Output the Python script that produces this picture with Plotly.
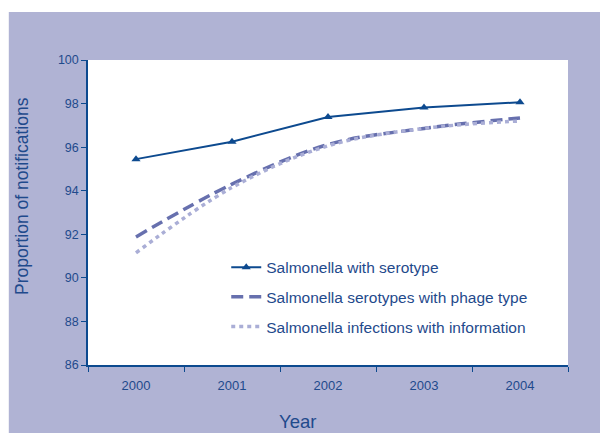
import plotly.graph_objects as go

years = ["2000", "2001", "2002", "2003", "2004"]
serotype = [95.45, 96.25, 97.38, 97.82, 98.06]
phage_type = [91.88, 94.3, 96.12, 96.86, 97.34]
information = [91.15, 94.15, 96.06, 96.86, 97.2]

NAVY = "#0D4A8F"
TEXT = "#1F4A8C"
LAVENDER = "#B0B3D4"
FONT = "Liberation Sans, Arial, sans-serif"

fig = go.Figure()
fig.add_trace(go.Scatter(
    x=years, y=serotype, name="Salmonella with serotype", legendgroup="a",
    mode="lines+markers", line=dict(color=NAVY, width=2),
    marker=dict(symbol="triangle-up", size=8, color=NAVY)))
fig.add_trace(go.Scatter(
    x=years, y=phage_type, name="Salmonella serotypes with phage type", legendgroup="b",
    mode="lines", line=dict(color="#6770AE", width=3.5, dash="12px,6px", shape="spline")))
fig.add_trace(go.Scatter(
    x=years, y=information, name="Salmonella infections with information", legendgroup="c",
    mode="lines", line=dict(color="#AAAED6", width=3.5, dash="4px,4px", shape="spline")))

# lavender frame behind the chart, white plot area on top of it
fig.add_shape(type="rect", xref="paper", yref="paper", x0=-0.165, x1=1.075, y0=-0.23, y1=1.157,
              fillcolor=LAVENDER, line=dict(width=0), layer="below")
fig.add_shape(type="rect", xref="paper", yref="paper", x0=0, x1=1, y0=0, y1=1,
              fillcolor="white", line=dict(width=0), layer="below")

fig.add_annotation(text="Year", xref="paper", yref="paper", x=0.436, y=-0.184,
                   showarrow=False, font=dict(size=18.5, color=TEXT, family=FONT),
                   xanchor="center", yanchor="middle")
fig.add_annotation(text="Proportion of notifications", xref="paper", yref="paper",
                   x=-0.1375, y=0.554, textangle=-90, showarrow=False,
                   font=dict(size=17.5, color=TEXT, family=FONT),
                   xanchor="center", yanchor="middle")

fig.update_xaxes(type="category", range=[-0.5, 4.5], tickson="boundaries",
                 ticks="outside", ticklen=5, ticklabelstandoff=8,
                 tickcolor=NAVY, showline=True, linecolor=NAVY, linewidth=1.5,
                 showgrid=False, tickfont=dict(size=13, color=TEXT, family=FONT))
fig.update_yaxes(range=[86, 100], dtick=2, ticks="outside", ticklen=5,
                 tickcolor=NAVY, showline=True, linecolor=NAVY, linewidth=1.5,
                 showgrid=False, zeroline=False,
                 tickfont=dict(size=12.5, color=TEXT, family=FONT))

# page body adds 8px, so the figure is 8px smaller than the window
fig.update_layout(
    width=600, height=425,
    margin=dict(l=80, r=40, t=52, b=68, autoexpand=False),
    paper_bgcolor="white", plot_bgcolor="white",
    font=dict(family=FONT, color=TEXT),
    showlegend=True,
    legend=dict(x=0.288, y=0.375, xanchor="left", yanchor="top",
                bgcolor="rgba(0,0,0,0)", traceorder="grouped", tracegroupgap=6.5,
                font=dict(size=15.5, color=TEXT, family=FONT)),
)

fig.write_html("out.html")
